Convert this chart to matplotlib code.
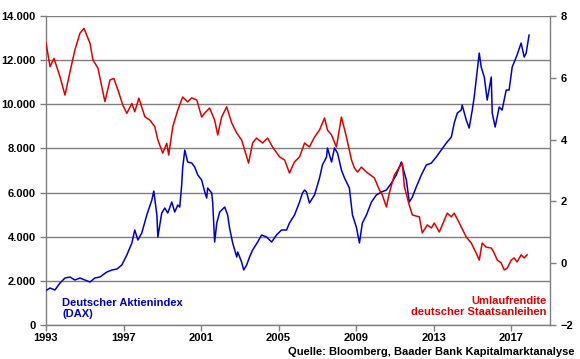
import matplotlib
matplotlib.use('Agg')
import matplotlib.pyplot as plt
from matplotlib.ticker import FuncFormatter

# DAX (left axis)
dax_year = [1993.05, 1993.21, 1993.46, 1993.72, 1993.98, 1994.24, 1994.49, 1994.75,
            1995.01, 1995.27, 1995.52, 1995.78, 1996.14, 1996.40, 1996.66, 1996.91,
            1997.17, 1997.43, 1997.58, 1997.74, 1997.94, 1998.20, 1998.46, 1998.56,
            1998.72, 1998.77, 1998.97, 1999.13, 1999.28, 1999.49, 1999.64, 1999.80,
            1999.90, 2000.00, 2000.05, 2000.16, 2000.31, 2000.52, 2000.67, 2000.83,
            2001.03, 2001.19, 2001.29, 2001.34, 2001.55, 2001.60, 2001.70, 2001.81,
            2001.96, 2002.22, 2002.37, 2002.47, 2002.63, 2002.84, 2002.89, 2003.09,
            2003.20, 2003.35, 2003.50, 2003.66, 2003.92, 2004.12, 2004.38, 2004.64,
            2004.89, 2005.15, 2005.41, 2005.56, 2005.82, 2006.08, 2006.23, 2006.34,
            2006.44, 2006.59, 2006.85, 2007.11, 2007.26, 2007.47, 2007.52, 2007.73,
            2007.88, 2008.04, 2008.24, 2008.40, 2008.65, 2008.81, 2009.01, 2009.17,
            2009.32, 2009.53, 2009.79, 2010.04, 2010.30, 2010.56, 2010.82, 2011.07,
            2011.23, 2011.33, 2011.59, 2011.74, 2011.90, 2012.10, 2012.36, 2012.62,
            2012.88, 2013.13, 2013.39, 2013.65, 2013.91, 2014.06, 2014.22, 2014.42,
            2014.47, 2014.68, 2014.83, 2014.99, 2015.09, 2015.25, 2015.35, 2015.45,
            2015.61, 2015.76, 2015.97, 2016.02, 2016.17, 2016.38, 2016.53, 2016.74,
            2016.89, 2017.05, 2017.30, 2017.51, 2017.67, 2017.77, 2017.92]
dax_value = [1585, 1676, 1585, 1903, 2129, 2174, 2039, 2129,
             2039, 1948, 2129, 2174, 2401, 2492, 2537, 2718,
             3171, 3715, 4304, 3850, 4168, 4983, 5663, 6070,
             4983, 3986, 5074, 5300, 5074, 5572, 5119, 5436,
             5345, 6342, 7112, 7927, 7384, 7339, 7157, 6795,
             6569, 6025, 5753, 6206, 5980, 5527, 3760, 4621,
             5119, 5345, 4983, 4394, 3715, 3080, 3307, 2854,
             2492, 2718, 3080, 3398, 3760, 4077, 3986, 3760,
             4077, 4304, 4304, 4621, 4983, 5572, 5980, 6116,
             6025, 5527, 5889, 6659, 7248, 7610, 8018, 7384,
             8018, 7792, 7022, 6659, 6206, 4983, 4440, 3715,
             4621, 4983, 5572, 5889, 6025, 6116, 6433, 6795,
             7157, 7384, 6569, 5572, 5798, 6251, 6795, 7248,
             7339, 7610, 7927, 8244, 8516, 9150, 9603, 9739,
             9965, 9286, 8924, 9739, 10328, 11551, 12321, 11687,
             11234, 10192, 11234, 9603, 8969, 9875, 9739, 10645,
             10645, 11687, 12231, 12775, 12140, 12321, 13135]

# Umlaufrendite in % (right axis)
yld_year = [1993.00, 1993.21, 1993.41, 1993.72, 1993.98, 1994.24, 1994.49, 1994.75,
            1994.96, 1995.27, 1995.42, 1995.68, 1996.04, 1996.30, 1996.50, 1996.71,
            1996.96, 1997.17, 1997.43, 1997.58, 1997.79, 1998.10, 1998.36, 1998.61,
            1998.77, 1999.02, 1999.23, 1999.33, 1999.54, 1999.80, 2000.05, 2000.31,
            2000.52, 2000.78, 2001.03, 2001.19, 2001.44, 2001.70, 2001.86, 2002.06,
            2002.32, 2002.58, 2002.84, 2003.09, 2003.25, 2003.45, 2003.66, 2003.86,
            2004.17, 2004.43, 2004.69, 2005.05, 2005.31, 2005.56, 2005.82, 2006.08,
            2006.34, 2006.59, 2006.85, 2007.11, 2007.37, 2007.52, 2007.73, 2007.98,
            2008.24, 2008.50, 2008.76, 2008.91, 2009.07, 2009.27, 2009.53, 2009.94,
            2010.20, 2010.35, 2010.56, 2010.71, 2010.97, 2011.23, 2011.38, 2011.49,
            2011.74, 2011.90, 2012.26, 2012.41, 2012.67, 2012.88, 2013.03, 2013.29,
            2013.55, 2013.70, 2013.91, 2014.06, 2014.32, 2014.68, 2014.94, 2015.19,
            2015.35, 2015.50, 2015.71, 2015.97, 2016.12, 2016.28, 2016.48, 2016.64,
            2016.79, 2017.00, 2017.15, 2017.30, 2017.51, 2017.67, 2017.82]
yld_value = [7.13, 6.36, 6.63, 6.04, 5.44, 6.20, 6.90, 7.44,
             7.60, 7.12, 6.58, 6.31, 5.23, 5.93, 5.98, 5.61,
             5.12, 4.85, 5.17, 4.90, 5.34, 4.74, 4.63, 4.42,
             3.99, 3.56, 3.88, 3.50, 4.42, 4.96, 5.38, 5.22,
             5.35, 5.28, 4.73, 4.86, 5.02, 4.63, 4.15, 4.73,
             5.06, 4.54, 4.21, 3.99, 3.66, 3.24, 3.89, 4.05,
             3.89, 4.05, 3.76, 3.44, 3.34, 2.92, 3.28, 3.44,
             3.89, 3.76, 4.08, 4.31, 4.70, 4.31, 4.15, 3.76,
             4.73, 4.08, 3.34, 3.08, 2.95, 3.11, 2.95, 2.76,
             2.37, 2.21, 1.82, 2.27, 2.85, 3.11, 3.24, 2.47,
             1.88, 1.56, 1.50, 0.98, 1.24, 1.14, 1.30, 1.01,
             1.40, 1.62, 1.50, 1.62, 1.30, 0.85, 0.65, 0.33,
             0.10, 0.65, 0.52, 0.49, 0.33, 0.10, 0.01, -0.22,
             -0.16, 0.10, 0.17, 0.04, 0.27, 0.17, 0.27]

year_ticks = [1993, 1997, 2001, 2005, 2009, 2013, 2017]

BLUE = '#0000CC'
RED = '#E00000'
GRID = '#7F7F7F'

plt.rcParams['font.family'] = ['Liberation Sans', 'DejaVu Sans']

fig = plt.figure(figsize=(5.8, 3.59), dpi=100, facecolor='white')
ax = fig.add_axes([46 / 580, 1 - 325 / 359, 504 / 580, 309 / 359])
ax2 = ax.twinx()

ax.plot(dax_year, dax_value, color=BLUE, linewidth=1.1, zorder=3)
ax2.plot(yld_year, yld_value, color=RED, linewidth=1.1, zorder=3)

ax.set_xlim(1993, 2019)
ax.set_ylim(0, 14000)
ax2.set_ylim(-2, 8)

ax.set_xticks(year_ticks)
ax.set_yticks(range(0, 14001, 2000))
ax.yaxis.set_major_formatter(FuncFormatter(lambda v, p: f'{int(v):,}'.replace(',', '.')))
ax2.set_yticks(range(-2, 9, 2))

ax.yaxis.grid(True, color=GRID, linewidth=1.0)
ax.set_axisbelow(True)

for a in (ax, ax2):
    a.spines['top'].set_visible(False)
    for s in ('left', 'right', 'bottom'):
        a.spines[s].set_color(GRID)
        a.spines[s].set_linewidth(1.0)
    a.tick_params(colors=GRID, length=4, width=1.0, labelcolor='black',
                  labelsize=8)
ax.spines['right'].set_visible(False)
ax2.spines['left'].set_visible(False)
ax2.spines['bottom'].set_visible(False)

for lbl in ax.get_xticklabels() + ax.get_yticklabels() + ax2.get_yticklabels():
    lbl.set_fontweight('bold')
ax.tick_params(axis='x', pad=2)

ax.text(0.032, 0.018, 'Deutscher Aktienindex\n(DAX)', transform=ax.transAxes,
        color=BLUE, fontsize=8, fontweight='bold', ha='left', va='bottom',
        linespacing=1.15)
ax.text(0.993, 0.025, 'Umlaufrendite\ndeutscher Staatsanleihen', transform=ax.transAxes,
        color=RED, fontsize=8, fontweight='bold', ha='right', va='bottom',
        linespacing=1.15, multialignment='right')
fig.text(575 / 580, 1 - 352 / 359, 'Quelle: Bloomberg, Baader Bank Kapitalmarktanalyse',
         color='black', fontsize=8, fontweight='bold', ha='right', va='center')

fig.savefig('out.png', dpi=100, facecolor='white')
